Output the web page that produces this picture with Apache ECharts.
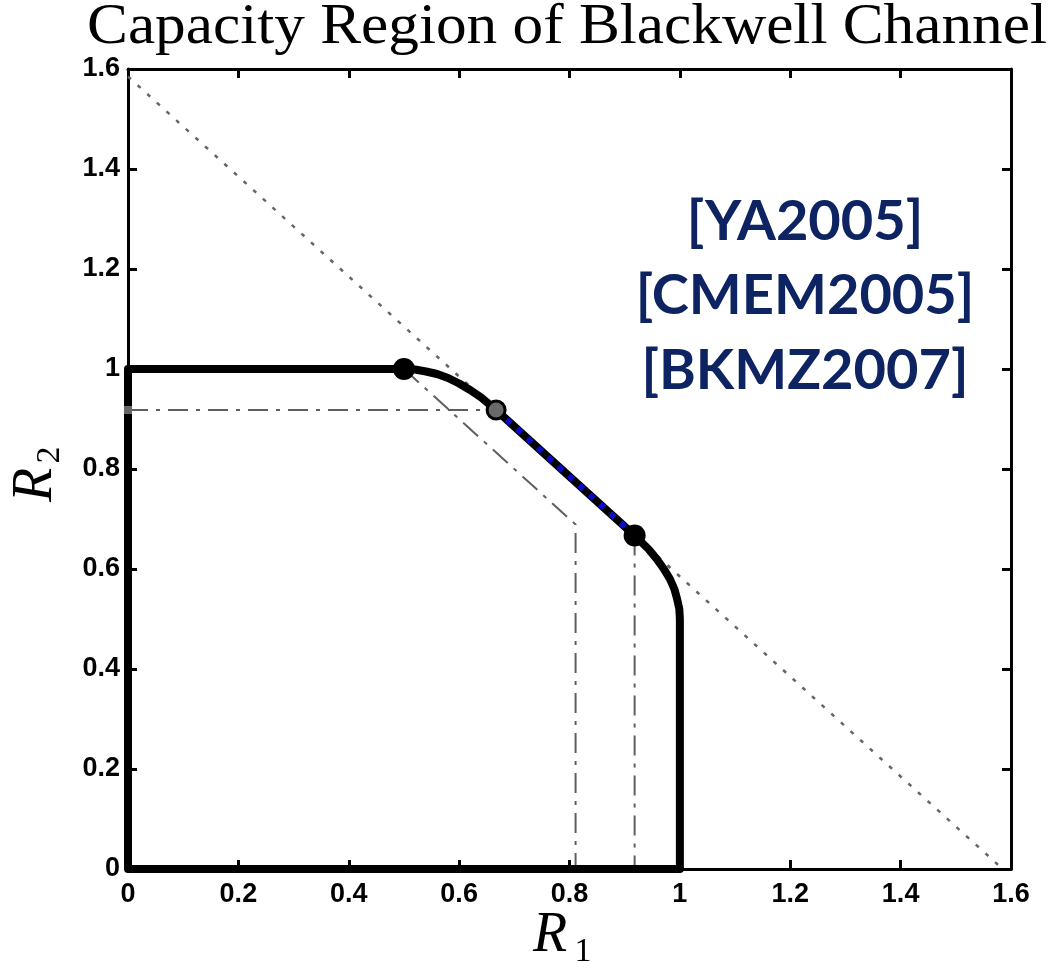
<!DOCTYPE html>
<html>
<head>
<meta charset="utf-8">
<script src="https://cdn.jsdelivr.net/npm/echarts@6/dist/echarts.min.js"></script>
<style>
  html, body { margin: 0; padding: 0; background: #ffffff; }
  #chart { width: 1049px; height: 963px; }
</style>
</head>
<body>
<div id="chart"></div>
<script>
// Axis ticks (both axes share the same 0..1.6 range)
const tickValues = [0, 0.2, 0.4, 0.6, 0.8, 1, 1.2, 1.4, 1.6];
const tickLabels = ['0', '0.2', '0.4', '0.6', '0.8', '1', '1.2', '1.4', '1.6'];

// Capacity-region boundary: left and bottom edges plus the curved corner pieces
const upperArc = [[0.50, 1.000], [0.52, 0.999], [0.54, 0.995], [0.56, 0.990], [0.58, 0.982],
                  [0.60, 0.971], [0.62, 0.958], [0.64, 0.943], [0.667, 0.918]];
const lowerArc = [[0.918, 0.667], [0.943, 0.640], [0.958, 0.620], [0.971, 0.600], [0.982, 0.580],
                  [0.990, 0.560], [0.995, 0.540], [0.999, 0.520], [1.000, 0.500]];
const boundaryStart = [[0, 0], [0, 1]];
const boundaryEnd = [[1, 0], [0, 0]];

// Sum-rate segment (R1 + R2 = log2 3) between the two uniform-input corners
const sumRateSegment = [[0.667, 0.918], [0.918, 0.667]];

// Full sum-rate bound line
const sumRateBound = [[0, 1.585], [1.585, 0]];

// Pentagon edges drawn dash-dotted
const uniformHorizontal = [[0, 0.918], [0.667, 0.918]];
const uniformVertical = [[0.918, 0.667], [0.918, 0]];
const skewedPentagon = [[0.5, 1.0], [0.811, 0.689], [0.811, 0]];

// Corner points
const blackCorners = [[0.5, 1.0], [0.918, 0.667]];
const grayCorners = [[0.667, 0.918]];
const startMarks = [[0, 0.918]];

const titleText = 'Capacity Region of Blackwell Channel';
const refLines = ['[YA2005]', '[CMEM2005]', '[BKMZ2007]'];

const boundary = boundaryStart.concat(upperArc, lowerArc, boundaryEnd);

// stretch the serif title to its box width
const titleFont = '57px "Liberation Serif", "DejaVu Serif", serif';
const mctx = document.createElement('canvas').getContext('2d');
mctx.font = titleFont;
const titleScale = 960 / mctx.measureText(titleText).width;

const chart = echarts.init(document.getElementById('chart'), null, { renderer: 'canvas' });

const labelFmt = v => tickLabels[Math.round(v / 0.2)];
const frameLine = { show: true, onZero: false, lineStyle: { color: '#000', width: 3 } };
const innerTick = { show: true, inside: true, length: 9, lineStyle: { color: '#000', width: 3 } };
const tickFont = { color: '#000', fontFamily: '"Liberation Sans", Arial, sans-serif', fontWeight: 'bold', fontSize: 27 };

function axisPair(kind) {
  const primaryPos = kind === 'x' ? 'bottom' : 'left';
  const mirrorPos = kind === 'x' ? 'top' : 'right';
  const base = { type: 'value', min: tickValues[0], max: tickValues[tickValues.length - 1], interval: 0.2,
                 splitLine: { show: false }, axisLine: frameLine, axisTick: innerTick };
  return [
    Object.assign({}, base, { position: primaryPos,
      axisLabel: Object.assign({ formatter: labelFmt, margin: kind === 'x' ? 12 : 8, showMinLabel: true, showMaxLabel: true }, tickFont) }),
    Object.assign({}, base, { position: mirrorPos, axisLabel: { show: false } })
  ];
}

const dashDot = { color: '#5f5f5f', width: 2, type: [20, 8, 4, 8] };

function lineSeries(data, lineStyle, z) {
  return { type: 'line', data: data, symbol: 'none', animation: false, silent: true,
           lineStyle: lineStyle, z: z };
}

chart.setOption({
  backgroundColor: '#ffffff',
  animation: false,
  grid: { left: 128, right: 38, top: 69, bottom: 94, containLabel: false },
  xAxis: axisPair('x'),
  yAxis: axisPair('y'),
  series: [
    lineSeries(sumRateBound, { color: '#666666', width: 2.5, type: [4, 9] }, 1),
    lineSeries(uniformHorizontal, dashDot, 1),
    lineSeries(uniformVertical, dashDot, 1),
    lineSeries(skewedPentagon, dashDot, 1),
    lineSeries(boundary, { color: '#000000', width: 8, join: 'round', cap: 'round' }, 3),
    lineSeries(sumRateSegment, { color: '#0c0cc8', width: 6, type: [6, 8] }, 4),
    { type: 'scatter', data: blackCorners, symbol: 'circle', symbolSize: 22, z: 5,
      itemStyle: { color: '#000000', opacity: 1 }, silent: true },
    { type: 'scatter', data: grayCorners, symbol: 'circle', symbolSize: 18, z: 5,
      itemStyle: { color: '#6a6a6a', borderColor: '#000000', borderWidth: 3, opacity: 1 }, silent: true },
    { type: 'scatter', data: startMarks, symbol: 'rect', symbolSize: 8, z: 5,
      itemStyle: { color: '#666666', opacity: 1 }, silent: true }
  ],
  graphic: [
    { type: 'text', x: 87, y: 28.5, scaleX: titleScale,
      style: { text: titleText, x: 0, y: 0, font: titleFont, fill: '#000', align: 'left', verticalAlign: 'middle' } },
    // axis titles
    { type: 'text', x: 550, y: 936,
      style: { text: 'R', font: 'italic 56px "Liberation Serif", serif', fill: '#000', align: 'center', verticalAlign: 'middle' } },
    { type: 'text', x: 583, y: 952,
      style: { text: '1', font: '34px "Liberation Serif", serif', fill: '#000', align: 'center', verticalAlign: 'middle' } },
    { type: 'group', x: 36, y: 485, rotation: Math.PI / 2, children: [
      { type: 'text', x: 0, y: 0,
        style: { text: 'R', font: 'italic 56px "Liberation Serif", serif', fill: '#000', align: 'center', verticalAlign: 'middle' } },
      { type: 'text', x: 30, y: 14,
        style: { text: '2', font: '34px "Liberation Serif", serif', fill: '#000', align: 'center', verticalAlign: 'middle' } }
    ] },
    // reference tags
    { type: 'text', x: 805, y: 222,
      style: { text: refLines[0], font: 'bold 56px Lato, "Open Sans", sans-serif', fill: '#0e2462', align: 'center', verticalAlign: 'middle' } },
    { type: 'text', x: 805, y: 296,
      style: { text: refLines[1], font: 'bold 56px Lato, "Open Sans", sans-serif', fill: '#0e2462', align: 'center', verticalAlign: 'middle' } },
    { type: 'text', x: 805, y: 371,
      style: { text: refLines[2], font: 'bold 56px Lato, "Open Sans", sans-serif', fill: '#0e2462', align: 'center', verticalAlign: 'middle' } }
  ]
});
</script>
</body>
</html>
